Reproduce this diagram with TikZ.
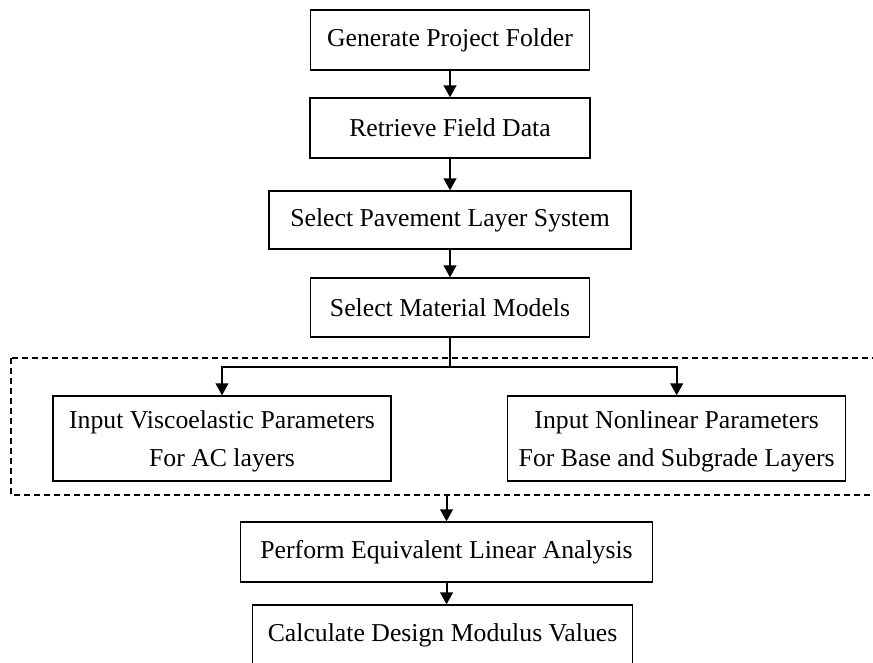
\documentclass[tikz,border=0pt]{standalone}
\usepackage{fontspec}
\setmainfont{Liberation Serif}
\usetikzlibrary{arrows.meta,positioning}

\begin{document}
\begin{tikzpicture}[stage/.style={draw, line width=1pt, minimum height=45pt, align=center, inner sep=0pt},
    input/.style={stage, minimum width=253.5pt, minimum height=63.75pt, text depth=0pt, font=\fontsize{19.3}{28.5}\selectfont},
    flow/.style={-{Triangle[length=9pt,width=9.5pt]}, line width=1.5pt},
    group/.style={draw, dash pattern=on 4.5pt off 3pt, line width=1pt},
    font=\fontsize{19.3}{27.5}\selectfont]
\useasboundingbox (0,0) rectangle (654.75pt,-496.5pt);
\clip (0,0) rectangle (654.75pt,-496.5pt);

    \node [stage, minimum width=209.25pt] (gen) at (337.5pt,-30pt) {Generate Project Folder};
    \node [stage, minimum width=210pt] (ret) [below=20pt of gen] {Retrieve Field Data};
    \node [stage, minimum width=271.5pt, minimum height=43.5pt] (lay) [below=23.75pt of ret] {Select Pavement Layer System};
    \node [stage, minimum width=209.25pt, minimum height=44.25pt] (mat) [below=20.75pt of lay] {Select Material Models};
    \node [input] (visc) [below=43.25pt of mat, xshift=-171pt] {Input Viscoelastic Parameters\\For AC layers};
    \node [input] (nonlin) [below=43.25pt of mat, xshift=170pt] {Input Nonlinear Parameters\\For Base and Subgrade Layers};
    \node [stage, minimum width=309pt] (perf) [below=137.75pt of mat, xshift=-2.6pt] {Perform Equivalent Linear Analysis};
    \node [stage, minimum width=285pt] (calc) [below=16.25pt of perf, xshift=-3pt] {Calculate Design Modulus Values};

    % dashed group round the two input steps
    \coordinate (grpnw) at (8.25pt,-268.5pt);
    \coordinate (grpse) at (662pt,-371.25pt);
    \draw [group] (grpnw) rectangle (grpse);
    \coordinate [below=22pt of mat.south] (split);
    \coordinate (grpout) at (perf.north |- grpse);

    \draw [flow] (gen) -- (ret);
    \draw [flow] (ret) -- (lay);
    \draw [flow] (lay) -- (mat);
    \draw [line width=1.5pt] (mat) -- (split);
    \draw [flow] (split) -| (visc);
    \draw [flow] (split) -| (nonlin);
    \draw [flow] (grpout) -- (perf);
    \draw [flow] (perf) -- (perf |- calc.north);
\end{tikzpicture}
\end{document}
